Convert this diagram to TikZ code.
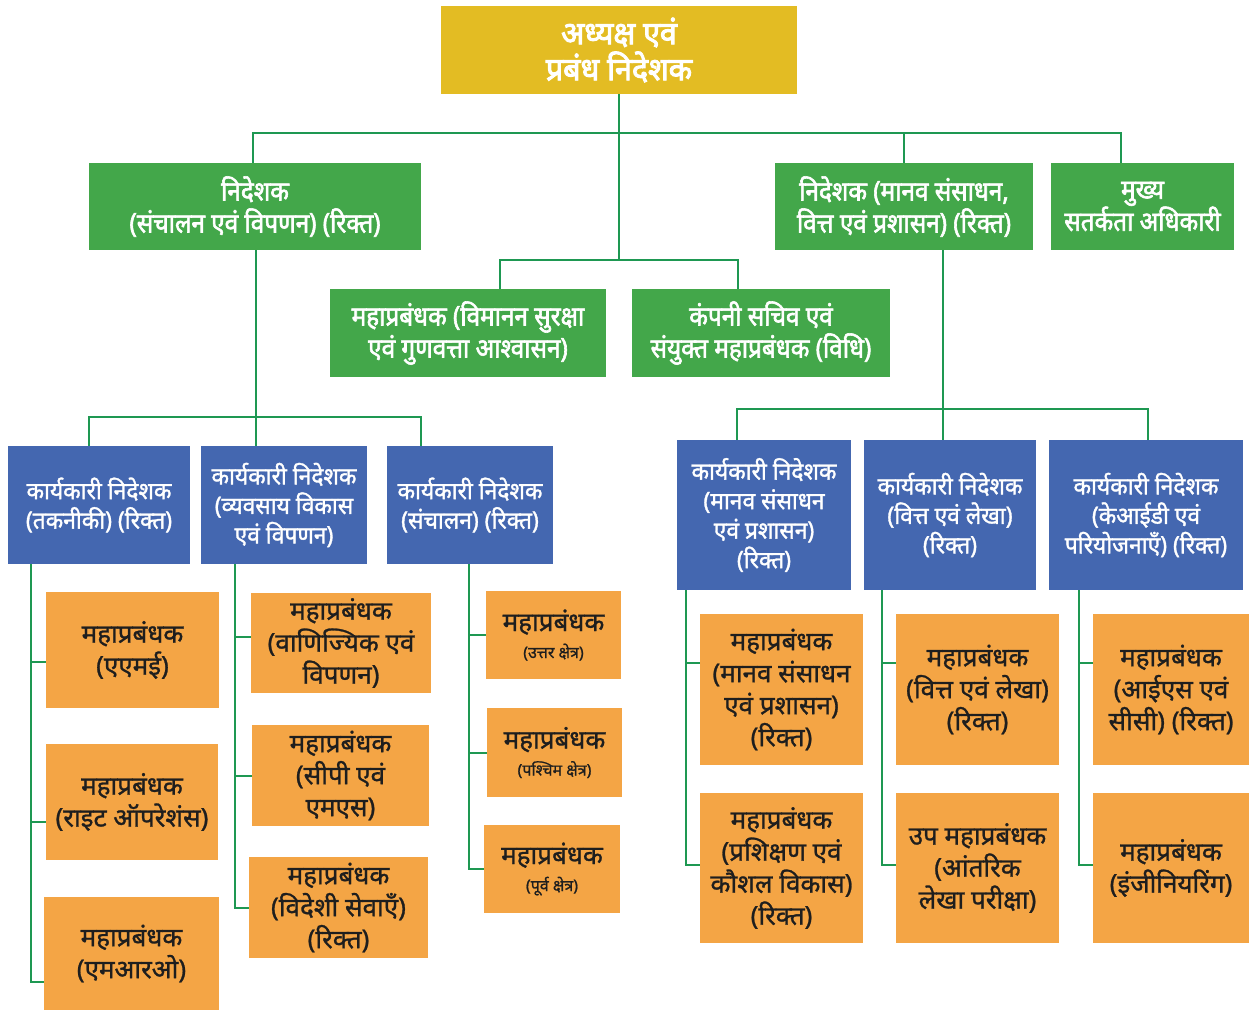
\documentclass[tikz,border=0pt]{standalone}
\usepackage{fontspec}
\newfontfamily\hyellow[Script=Devanagari,FakeStretch=0.95,FakeBold=3]{Noto Sans}
\newfontfamily\hgreen[Script=Devanagari,FakeStretch=0.9,FakeBold=2.2]{Noto Sans}
\newfontfamily\hblue[Script=Devanagari,FakeStretch=0.95,FakeBold=1.4]{Noto Sans}
\newfontfamily\horange[Script=Devanagari,FakeBold=1]{Noto Sans}
\definecolor{chairyellow}{RGB}{227,188,35}
\definecolor{dirgreen}{RGB}{67,167,74}
\definecolor{edblue}{RGB}{68,103,176}
\definecolor{gmorange}{RGB}{244,165,69}
\definecolor{gmtext}{RGB}{30,30,30}
\definecolor{linegreen}{RGB}{30,152,82}
\newcommand{\regionnote}[1]{\\[-5pt]{\horange\fontsize{16}{18}\selectfont #1}}
\tikzset{
  conn/.style={draw=linegreen, line width=2pt},
  base/.style={inner sep=0pt, align=center, text=white},
  ybox/.style={base, fill=chairyellow, font=\hyellow\fontsize{32}{36}\selectfont},
  gbox/.style={base, fill=dirgreen, font=\hgreen\fontsize{27}{32}\selectfont},
  bbox/.style={base, fill=edblue, font=\hblue\fontsize{24}{29.5}\selectfont},
  obox/.style={base, fill=gmorange, text=gmtext, font=\horange\fontsize{26}{32}\selectfont},
}
\begin{document}
\begin{tikzpicture}[x=1pt,y=-1pt]
\useasboundingbox (0,0) rectangle (1249,1011);

% chairman
\node[ybox, minimum width=356, minimum height=88] (cmd) at (619,50) {अध्यक्ष एवं\\प्रबंध निदेशक};

% directors and direct reports
\node[gbox, minimum width=332, minimum height=87] (dirops) at (255,206.5) {निदेशक\\(संचालन एवं विपणन) (रिक्त)};
\node[gbox, minimum width=258, minimum height=87] (dirhr) at (904,206.5) {निदेशक (मानव संसाधन,\\वित्त एवं प्रशासन) (रिक्त)};
\node[gbox, minimum width=183, minimum height=87] (cvo) at (1142.5,206.5) {मुख्य\\सतर्कता अधिकारी};
\node[gbox, minimum width=276, minimum height=88] (gmav) at (468,333) {महाप्रबंधक (विमानन सुरक्षा\\एवं गुणवत्ता आश्वासन)};
\node[gbox, minimum width=258, minimum height=88] (cs) at (761,333) {कंपनी सचिव एवं\\संयुक्त महाप्रबंधक (विधि)};

% executive directors
\node[bbox, minimum width=182, minimum height=118] (edtech) at (99,505) {कार्यकारी निदेशक\\(तकनीकी) (रिक्त)};
\node[bbox, minimum width=166, minimum height=118] (edbd) at (284,505) {कार्यकारी निदेशक\\(व्यवसाय विकास\\एवं विपणन)};
\node[bbox, minimum width=166, minimum height=118] (edops) at (470,505) {कार्यकारी निदेशक\\(संचालन) (रिक्त)};
\node[bbox, minimum width=174, minimum height=150] (edhr) at (764,515) {कार्यकारी निदेशक\\(मानव संसाधन\\एवं प्रशासन)\\(रिक्त)};
\node[bbox, minimum width=172, minimum height=150] (edfin) at (950,515) {कार्यकारी निदेशक\\(वित्त एवं लेखा)\\(रिक्त)};
\node[bbox, minimum width=194, minimum height=150] (edkid) at (1146,515) {कार्यकारी निदेशक\\(केआईडी एवं\\परियोजनाएँ) (रिक्त)};

% general managers
\node[obox, minimum width=173, minimum height=116] (ame) at (132.5,650) {महाप्रबंधक\\(एएमई)};
\node[obox, minimum width=172, minimum height=116] (rto) at (132,802) {महाप्रबंधक\\(राइट ऑपरेशंस)};
\node[obox, minimum width=175, minimum height=113] (mro) at (131.5,953.5) {महाप्रबंधक\\(एमआरओ)};

\node[obox, minimum width=180, minimum height=100] (cmk) at (341,643) {महाप्रबंधक\\(वाणिज्यिक एवं\\विपणन)};
\node[obox, minimum width=177, minimum height=101] (cpms) at (340.5,775.5) {महाप्रबंधक\\(सीपी एवं\\एमएस)};
\node[obox, minimum width=179, minimum height=101] (fsv) at (338.5,907.5) {महाप्रबंधक\\(विदेशी सेवाएँ)\\(रिक्त)};

\node[obox, minimum width=135, minimum height=88] (nr) at (553.5,635) {महाप्रबंधक\regionnote{(उत्तर क्षेत्र)}};
\node[obox, minimum width=135, minimum height=89] (wr) at (554.5,752.5) {महाप्रबंधक\regionnote{(पश्चिम क्षेत्र)}};
\node[obox, minimum width=136, minimum height=88] (er) at (552,869) {महाप्रबंधक\regionnote{(पूर्व क्षेत्र)}};

\node[obox, minimum width=163, minimum height=151] (gmhr) at (781.5,689.5) {महाप्रबंधक\\(मानव संसाधन\\एवं प्रशासन)\\(रिक्त)};
\node[obox, minimum width=163, minimum height=150] (gmtr) at (781.5,868) {महाप्रबंधक\\(प्रशिक्षण एवं\\कौशल विकास)\\(रिक्त)};
\node[obox, minimum width=163, minimum height=151] (gmfin) at (977.5,689.5) {महाप्रबंधक\\(वित्त एवं लेखा)\\(रिक्त)};
\node[obox, minimum width=163, minimum height=150] (dgmia) at (977.5,868) {उप महाप्रबंधक\\(आंतरिक\\लेखा परीक्षा)};
\node[obox, minimum width=156, minimum height=151] (gmis) at (1171,689.5) {महाप्रबंधक\\(आईएस एवं\\सीसी) (रिक्त)};
\node[obox, minimum width=156, minimum height=150] (gmeng) at (1171,868) {महाप्रबंधक\\(इंजीनियरिंग)};

% junction points
\coordinate (j1) at (619,133);
\coordinate (j2) at (619,260);
\coordinate (j3) at (256,417);
\coordinate (j4) at (943,409);

% top level
\draw[conn] (cmd.south) -- (j2);
\draw[conn] ([xshift=-2pt]dirops.north) |- (j1) -| ([xshift=-21.5pt]cvo.north);
\draw[conn] (dirhr.north) -- (dirhr.north |- j1);
\draw[conn] ([xshift=32pt]gmav.north) |- (j2) -| ([xshift=-23pt]cs.north);

% operations and marketing
\draw[conn] ([xshift=1pt]dirops.south) -- (j3);
\draw[conn] ([xshift=-10pt]edtech.north) |- (j3) -| ([xshift=-49pt]edops.north);
\draw[conn] (j3) -- (j3 |- edbd.north);

% HR, finance and administration
\draw[conn] ([xshift=39pt]dirhr.south) -- (j4);
\draw[conn] ([xshift=-27pt]edhr.north) |- (j4) -| ([xshift=2pt]edkid.north);
\draw[conn] (j4) -- (j4 |- edfin.north);

% spines to general managers
\draw[conn] ([xshift=23pt]edtech.south west) |- ([yshift=-12pt]ame.west);
\draw[conn] ([xshift=23pt]edtech.south west) |- ([yshift=-20pt]rto.west);
\draw[conn] ([xshift=23pt]edtech.south west) |- ([yshift=-28.5pt]mro.west);

\draw[conn] ([xshift=34pt]edbd.south west) |- ([yshift=6pt]cmk.west);
\draw[conn] ([xshift=34pt]edbd.south west) |- (cpms.west);
\draw[conn] ([xshift=34pt]edbd.south west) |- (fsv.west);

\draw[conn] ([xshift=82pt]edops.south west) |- (nr.west);
\draw[conn] ([xshift=82pt]edops.south west) |- (wr.west);
\draw[conn] ([xshift=82pt]edops.south west) |- (er.west);

\draw[conn] ([xshift=9pt]edhr.south west) |- ([yshift=26.5pt]gmhr.west);
\draw[conn] ([xshift=9pt]edhr.south west) |- ([yshift=3pt]gmtr.west);
\draw[conn] ([xshift=18pt]edfin.south west) |- ([yshift=26.5pt]gmfin.west);
\draw[conn] ([xshift=18pt]edfin.south west) |- ([yshift=3pt]dgmia.west);
\draw[conn] ([xshift=30pt]edkid.south west) |- ([yshift=26.5pt]gmis.west);
\draw[conn] ([xshift=30pt]edkid.south west) |- ([yshift=3pt]gmeng.west);
\end{tikzpicture}
\end{document}
